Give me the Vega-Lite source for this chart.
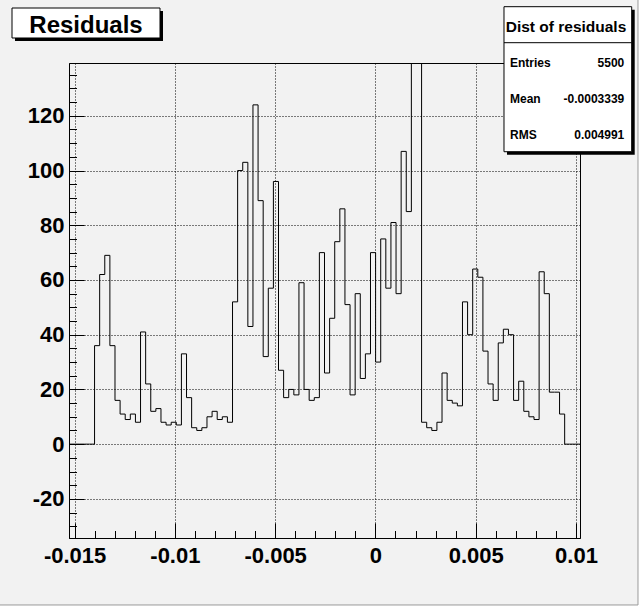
{
  "$schema": "https://vega.github.io/schema/vega-lite/v6.json",
  "width": 511,
  "height": 475,
  "autosize": {"type": "none"},
  "padding": {"left": 69, "top": 63, "right": 63, "bottom": 69},
  "background": "#f2f2f2",
  "config": {
    "font": "Liberation Sans",
    "view": {"stroke": "#000000", "strokeWidth": 1, "fill": "#f2f2f2"}
  },
  "resolve": {"axis": {"x": "independent", "y": "independent"}},
  "datasets": {
    "hist": [
      {"edge": -0.01528, "entries": 0},
      {"edge": -0.0150252, "entries": 0},
      {"edge": -0.0147704, "entries": 0},
      {"edge": -0.0145156, "entries": 0},
      {"edge": -0.0142608, "entries": 0},
      {"edge": -0.014006, "entries": 36},
      {"edge": -0.0137512, "entries": 62},
      {"edge": -0.0134964, "entries": 69},
      {"edge": -0.0132416, "entries": 36},
      {"edge": -0.0129868, "entries": 16},
      {"edge": -0.012732, "entries": 11},
      {"edge": -0.0124772, "entries": 9},
      {"edge": -0.0122224, "entries": 11},
      {"edge": -0.0119676, "entries": 8},
      {"edge": -0.0117128, "entries": 41},
      {"edge": -0.011458, "entries": 22},
      {"edge": -0.0112032, "entries": 12},
      {"edge": -0.0109484, "entries": 13},
      {"edge": -0.0106936, "entries": 8},
      {"edge": -0.0104388, "entries": 7},
      {"edge": -0.010184, "entries": 8},
      {"edge": -0.0099292, "entries": 7},
      {"edge": -0.0096744, "entries": 33},
      {"edge": -0.0094196, "entries": 17},
      {"edge": -0.0091648, "entries": 6},
      {"edge": -0.00891, "entries": 5},
      {"edge": -0.0086552, "entries": 6},
      {"edge": -0.0084004, "entries": 10},
      {"edge": -0.0081456, "entries": 12},
      {"edge": -0.0078908, "entries": 9},
      {"edge": -0.007636, "entries": 10},
      {"edge": -0.0073812, "entries": 8},
      {"edge": -0.0071264, "entries": 52},
      {"edge": -0.0068716, "entries": 100},
      {"edge": -0.0066168, "entries": 103},
      {"edge": -0.006362, "entries": 43},
      {"edge": -0.0061072, "entries": 124},
      {"edge": -0.0058524, "entries": 89},
      {"edge": -0.0055976, "entries": 32},
      {"edge": -0.0053428, "entries": 57},
      {"edge": -0.005088, "entries": 96},
      {"edge": -0.0048332, "entries": 27},
      {"edge": -0.0045784, "entries": 17},
      {"edge": -0.0043236, "entries": 20},
      {"edge": -0.0040688, "entries": 18},
      {"edge": -0.003814, "entries": 59},
      {"edge": -0.0035592, "entries": 20},
      {"edge": -0.0033044, "entries": 16},
      {"edge": -0.0030496, "entries": 17},
      {"edge": -0.0027948, "entries": 70},
      {"edge": -0.00254, "entries": 26},
      {"edge": -0.0022852, "entries": 46},
      {"edge": -0.0020304, "entries": 74},
      {"edge": -0.0017756, "entries": 86},
      {"edge": -0.0015208, "entries": 51},
      {"edge": -0.001266, "entries": 18},
      {"edge": -0.0010112, "entries": 55},
      {"edge": -0.0007564, "entries": 24},
      {"edge": -0.0005016, "entries": 33},
      {"edge": -0.0002468, "entries": 70},
      {"edge": 0.000008, "entries": 30},
      {"edge": 0.0002628, "entries": 75},
      {"edge": 0.0005176, "entries": 57},
      {"edge": 0.0007724, "entries": 81},
      {"edge": 0.0010272, "entries": 55},
      {"edge": 0.001282, "entries": 107},
      {"edge": 0.0015368, "entries": 85},
      {"edge": 0.0017916, "entries": 1923},
      {"edge": 0.0020464, "entries": 409},
      {"edge": 0.0023012, "entries": 8},
      {"edge": 0.002556, "entries": 6},
      {"edge": 0.0028108, "entries": 5},
      {"edge": 0.0030656, "entries": 8},
      {"edge": 0.0033204, "entries": 26},
      {"edge": 0.0035752, "entries": 16},
      {"edge": 0.00383, "entries": 15},
      {"edge": 0.0040848, "entries": 14},
      {"edge": 0.0043396, "entries": 52},
      {"edge": 0.0045944, "entries": 40},
      {"edge": 0.0048492, "entries": 64},
      {"edge": 0.005104, "entries": 61},
      {"edge": 0.0053588, "entries": 34},
      {"edge": 0.0056136, "entries": 22},
      {"edge": 0.0058684, "entries": 16},
      {"edge": 0.0061232, "entries": 37},
      {"edge": 0.006378, "entries": 42},
      {"edge": 0.0066328, "entries": 40},
      {"edge": 0.0068876, "entries": 16},
      {"edge": 0.0071424, "entries": 23},
      {"edge": 0.0073972, "entries": 12},
      {"edge": 0.007652, "entries": 10},
      {"edge": 0.0079068, "entries": 9},
      {"edge": 0.0081616, "entries": 63},
      {"edge": 0.0084164, "entries": 55},
      {"edge": 0.0086712, "entries": 19},
      {"edge": 0.008926, "entries": 19},
      {"edge": 0.0091808, "entries": 11},
      {"edge": 0.0094356, "entries": 0},
      {"edge": 0.0096904, "entries": 0},
      {"edge": 0.0099452, "entries": 0},
      {"edge": 0.0102, "entries": 0}
    ],
    "one": [{}]
  },
  "layer": [
    {
      "data": {"name": "hist"},
      "mark": {"type": "line", "interpolate": "step-after", "color": "#000000", "strokeWidth": 1, "clip": true},
      "encoding": {
        "x": {
          "field": "edge",
          "type": "quantitative",
          "scale": {"domain": [-0.01528, 0.0102], "nice": false, "zero": false},
          "axis": {
            "orient": "bottom",
            "title": null,
            "values": [-0.015, -0.01, -0.005, 0, 0.005, 0.01],
            "labelExpr": "'' + datum.value",
            "labelFont": "Liberation Sans",
            "labelFontSize": 22,
            "labelFontWeight": "bold",
            "labelColor": "#000000",
            "labelPadding": 22,
            "labelOverlap": false,
            "labelFlush": false,
            "domainColor": "#000000",
            "domainWidth": 1,
            "tickColor": "#000000",
            "tickWidth": 1,
            "tickSize": -15,
            "grid": true,
            "gridColor": "#000000",
            "gridDash": [1, 2],
            "gridWidth": 1
          }
        },
        "y": {
          "field": "entries",
          "type": "quantitative",
          "scale": {"domain": [-34.3, 139.3], "nice": false, "zero": false},
          "axis": {
            "orient": "left",
            "title": null,
            "values": [-20, 0, 20, 40, 60, 80, 100, 120],
            "labelExpr": "'' + datum.value",
            "labelFont": "Liberation Sans",
            "labelFontSize": 22,
            "labelFontWeight": "bold",
            "labelColor": "#000000",
            "labelPadding": 20,
            "labelOverlap": false,
            "labelFlush": false,
            "domainColor": "#000000",
            "domainWidth": 1,
            "tickColor": "#000000",
            "tickWidth": 1,
            "tickSize": -15,
            "grid": true,
            "gridColor": "#000000",
            "gridDash": [1, 2],
            "gridWidth": 1
          }
        }
      }
    },
    {
      "data": {"name": "one"},
      "mark": {"type": "point", "opacity": 0},
      "encoding": {
        "x": {
          "datum": 0,
          "type": "quantitative",
          "axis": {
            "orient": "bottom",
            "title": null,
            "values": [-0.014, -0.013, -0.012, -0.011, -0.009, -0.008, -0.007, -0.006, -0.004, -0.003, -0.002, -0.001, 0.001, 0.002, 0.003, 0.004, 0.006, 0.007, 0.008, 0.009],
            "labels": false,
            "domain": false,
            "grid": false,
            "tickColor": "#000000",
            "tickWidth": 1,
            "tickSize": -7.5
          }
        },
        "y": {
          "datum": 0,
          "type": "quantitative",
          "axis": {
            "orient": "left",
            "title": null,
            "values": [-30, -25, -15, -10, -5, 5, 10, 15, 25, 30, 35, 45, 50, 55, 65, 70, 75, 85, 90, 95, 105, 110, 115, 125, 130, 135],
            "labels": false,
            "domain": false,
            "grid": false,
            "tickColor": "#000000",
            "tickWidth": 1,
            "tickSize": -7.5
          }
        }
      }
    },
    {
      "data": {"name": "one"},
      "mark": {"type": "rect", "fill": "#ffffff"},
      "encoding": {
        "x": {"datum": 0.013092, "type": "quantitative", "axis": null},
        "x2": {"datum": 0.013690},
        "y": {"datum": 165.98, "type": "quantitative", "axis": null},
        "y2": {"datum": -64.27}
      }
    },
    {
      "data": {"name": "one"},
      "mark": {"type": "rect", "fill": "#ffffff"},
      "encoding": {
        "x": {"datum": -0.019219, "type": "quantitative", "axis": null},
        "x2": {"datum": 0.013690},
        "y": {"datum": -58.78, "type": "quantitative", "axis": null},
        "y2": {"datum": -64.27}
      }
    },
    {
      "data": {"name": "one"},
      "mark": {"type": "rule", "color": "#9a9a9a", "strokeWidth": 1},
      "encoding": {
        "x": {"datum": 0.013092, "type": "quantitative", "axis": null},
        "y": {"datum": 165.98, "type": "quantitative", "axis": null},
        "y2": {"datum": -58.78}
      }
    },
    {
      "data": {"name": "one"},
      "mark": {"type": "rule", "color": "#9a9a9a", "strokeWidth": 1},
      "encoding": {
        "x": {"datum": -0.019219, "type": "quantitative", "axis": null},
        "x2": {"datum": 0.013092},
        "y": {"datum": -58.78, "type": "quantitative", "axis": null}
      }
    },
    {
      "data": {"name": "one"},
      "mark": {"type": "rect", "fill": "#000000"},
      "encoding": {
        "x": {"datum": -0.017973, "type": "quantitative", "axis": null},
        "x2": {"datum": -0.010593},
        "y": {"datum": 158.30, "type": "quantitative", "axis": null},
        "y2": {"datum": 147.34}
      }
    },
    {
      "data": {"name": "one"},
      "mark": {"type": "rect", "fill": "#ffffff", "stroke": "#000000", "strokeWidth": 1},
      "encoding": {
        "x": {"datum": -0.018122, "type": "quantitative", "axis": null},
        "x2": {"datum": -0.010742},
        "y": {"datum": 159.40, "type": "quantitative", "axis": null},
        "y2": {"datum": 148.44}
      }
    },
    {
      "data": {"name": "one"},
      "mark": {"type": "text", "text": "Residuals", "font": "Liberation Sans", "fontSize": 24, "fontWeight": "bold", "align": "center", "baseline": "alphabetic", "color": "#000000"},
      "encoding": {
        "x": {"datum": -0.014432, "type": "quantitative", "axis": null},
        "y": {"datum": 150.26, "type": "quantitative", "axis": null}
      }
    },
    {
      "data": {"name": "one"},
      "mark": {"type": "rect", "fill": "#000000"},
      "encoding": {
        "x": {"datum": 0.006560, "type": "quantitative", "axis": null},
        "x2": {"datum": 0.012928},
        "y": {"datum": 158.78, "type": "quantitative", "axis": null},
        "y2": {"datum": 105.79}
      }
    },
    {
      "data": {"name": "one"},
      "mark": {"type": "rect", "fill": "#ffffff", "stroke": "#000000", "strokeWidth": 1},
      "encoding": {
        "x": {"datum": 0.006410, "type": "quantitative", "axis": null},
        "x2": {"datum": 0.012778},
        "y": {"datum": 159.88, "type": "quantitative", "axis": null},
        "y2": {"datum": 106.88}
      }
    },
    {
      "data": {"name": "one"},
      "mark": {"type": "rule", "color": "#000000", "strokeWidth": 1},
      "encoding": {
        "x": {"datum": 0.006410, "type": "quantitative", "axis": null},
        "x2": {"datum": 0.012778},
        "y": {"datum": 146.72, "type": "quantitative", "axis": null}
      }
    },
    {
      "data": {"name": "one"},
      "mark": {"type": "text", "text": "Dist of residuals", "font": "Liberation Sans", "fontSize": 15.5, "fontWeight": "bold", "align": "center", "baseline": "alphabetic", "color": "#000000"},
      "encoding": {
        "x": {"datum": 0.009502, "type": "quantitative", "axis": null},
        "y": {"datum": 150.74, "type": "quantitative", "axis": null}
      }
    },
    {
      "data": {"name": "one"},
      "mark": {"type": "text", "text": "Entries", "font": "Liberation Sans", "fontSize": 12, "fontWeight": "bold", "align": "left", "baseline": "alphabetic", "color": "#000000"},
      "encoding": {
        "x": {"datum": 0.006710, "type": "quantitative", "axis": null},
        "y": {"datum": 137.95, "type": "quantitative", "axis": null}
      }
    },
    {
      "data": {"name": "one"},
      "mark": {"type": "text", "text": "5500", "font": "Liberation Sans", "fontSize": 12, "fontWeight": "bold", "align": "right", "baseline": "alphabetic", "color": "#000000"},
      "encoding": {
        "x": {"datum": 0.012409, "type": "quantitative", "axis": null},
        "y": {"datum": 137.95, "type": "quantitative", "axis": null}
      }
    },
    {
      "data": {"name": "one"},
      "mark": {"type": "text", "text": "Mean", "font": "Liberation Sans", "fontSize": 12, "fontWeight": "bold", "align": "left", "baseline": "alphabetic", "color": "#000000"},
      "encoding": {
        "x": {"datum": 0.006710, "type": "quantitative", "axis": null},
        "y": {"datum": 124.79, "type": "quantitative", "axis": null}
      }
    },
    {
      "data": {"name": "one"},
      "mark": {"type": "text", "text": "-0.0003339", "font": "Liberation Sans", "fontSize": 12, "fontWeight": "bold", "align": "right", "baseline": "alphabetic", "color": "#000000"},
      "encoding": {
        "x": {"datum": 0.012409, "type": "quantitative", "axis": null},
        "y": {"datum": 124.79, "type": "quantitative", "axis": null}
      }
    },
    {
      "data": {"name": "one"},
      "mark": {"type": "text", "text": "RMS", "font": "Liberation Sans", "fontSize": 12, "fontWeight": "bold", "align": "left", "baseline": "alphabetic", "color": "#000000"},
      "encoding": {
        "x": {"datum": 0.006710, "type": "quantitative", "axis": null},
        "y": {"datum": 111.63, "type": "quantitative", "axis": null}
      }
    },
    {
      "data": {"name": "one"},
      "mark": {"type": "text", "text": "0.004991", "font": "Liberation Sans", "fontSize": 12, "fontWeight": "bold", "align": "right", "baseline": "alphabetic", "color": "#000000"},
      "encoding": {
        "x": {"datum": 0.012409, "type": "quantitative", "axis": null},
        "y": {"datum": 111.63, "type": "quantitative", "axis": null}
      }
    }
  ]
}
